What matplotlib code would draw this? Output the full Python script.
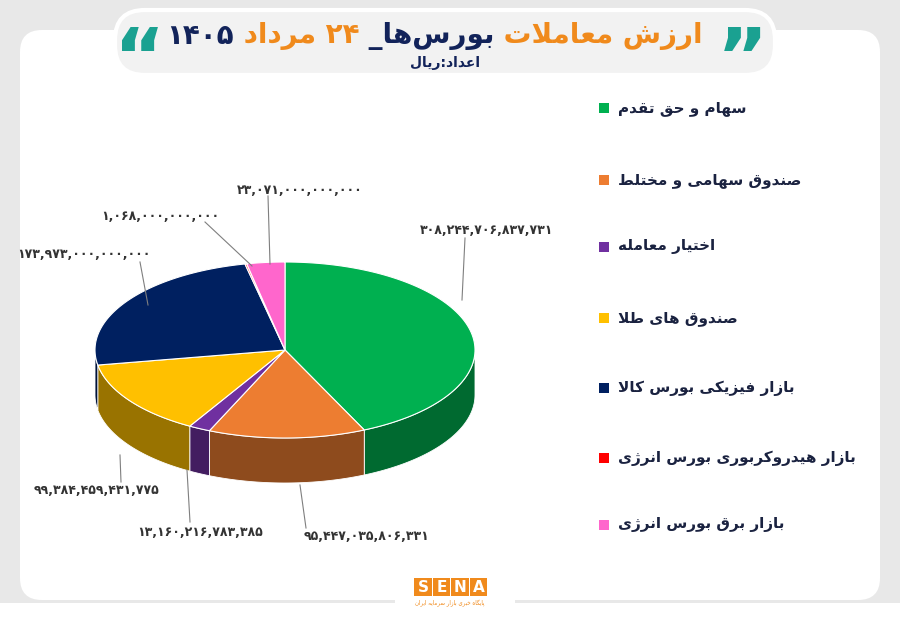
import matplotlib.pyplot as plt
import numpy as np
from matplotlib.patches import FancyBboxPatch, Polygon, Rectangle
import matplotlib.colors as mcolors

plt.rcParams['font.family'] = ['DejaVu Sans']

# داده ها
categories = ["سهام و حق تقدم", "صندوق سهامی و مختلط", "اختیار معامله", "صندوق های طلا",
              "بازار فیزیکی بورس کالا", "بازار هیدروکربوری بورس انرژی", "بازار برق بورس انرژی"]
values = [308244706837731, 95447035806331, 13160216783385, 99384459431775,
          173973000000000, 1068000000000, 23071000000000]
colors = ["#00b050", "#ed7d31", "#7030a0", "#ffc000", "#002060", "#ff0000", "#ff66cc"]
title_parts = [("ارزش معاملات ", "#f08a1c"), ("بورس‌ها_ ", "#12235a"),
               ("۲۴ مرداد ", "#f08a1c"), ("۱۴۰۵", "#12235a")]
subtitle = "اعداد:ریال"

# شکل دهی حروف فارسی (matplotlib خودش این کار را نمی کند)
FORMS = {
    'ا': (0xFE8D, 0xFE8E, None, None), 'ب': (0xFE8F, 0xFE90, 0xFE91, 0xFE92),
    'پ': (0xFB56, 0xFB57, 0xFB58, 0xFB59), 'ت': (0xFE95, 0xFE96, 0xFE97, 0xFE98),
    'ح': (0xFEA1, 0xFEA2, 0xFEA3, 0xFEA4), 'خ': (0xFEA5, 0xFEA6, 0xFEA7, 0xFEA8),
    'د': (0xFEA9, 0xFEAA, None, None), 'ر': (0xFEAD, 0xFEAE, None, None),
    'ز': (0xFEAF, 0xFEB0, None, None), 'ژ': (0xFB8A, 0xFB8B, None, None),
    'س': (0xFEB1, 0xFEB2, 0xFEB3, 0xFEB4), 'ش': (0xFEB5, 0xFEB6, 0xFEB7, 0xFEB8),
    'ص': (0xFEB9, 0xFEBA, 0xFEBB, 0xFEBC), 'ط': (0xFEC1, 0xFEC2, 0xFEC3, 0xFEC4),
    'ع': (0xFEC9, 0xFECA, 0xFECB, 0xFECC), 'ف': (0xFED1, 0xFED2, 0xFED3, 0xFED4),
    'ق': (0xFED5, 0xFED6, 0xFED7, 0xFED8), 'ک': (0xFB8E, 0xFB8F, 0xFB90, 0xFB91),
    'گ': (0xFB92, 0xFB93, 0xFB94, 0xFB95), 'ل': (0xFEDD, 0xFEDE, 0xFEDF, 0xFEE0),
    'م': (0xFEE1, 0xFEE2, 0xFEE3, 0xFEE4), 'ن': (0xFEE5, 0xFEE6, 0xFEE7, 0xFEE8),
    'و': (0xFEED, 0xFEEE, None, None), 'ه': (0xFEE9, 0xFEEA, 0xFEEB, 0xFEEC),
    'ی': (0xFBFC, 0xFBFD, 0xFBFE, 0xFBFF),
}
DIGITS = set("۰۱۲۳۴۵۶۷۸۹0123456789,")


def fa(s):
    out = []
    i = 0
    while i < len(s):
        c = s[i]
        if c not in FORMS:
            if c != '\u200c':
                out.append(c)
            i += 1
            continue
        prev = s[i - 1] if i > 0 else None
        nxt = s[i + 1] if i + 1 < len(s) else None
        p = prev in FORMS and FORMS[prev][2] is not None
        if c == 'ل' and nxt == 'ا':
            out.append(chr(0xFEFC if p else 0xFEFB))
            i += 2
            continue
        n = FORMS[c][2] is not None and nxt in FORMS
        iso, fin, ini, med = FORMS[c]
        if p and n:
            out.append(chr(med))
        elif p:
            out.append(chr(fin))
        elif n:
            out.append(chr(ini))
        else:
            out.append(chr(iso))
        i += 1
    # ترتیب دیداری راست به چپ، اعداد چپ به راست
    runs = []
    for ch in out:
        d = ch in DIGITS
        if runs and runs[-1][0] == d:
            runs[-1][1].append(ch)
        else:
            runs.append([d, [ch]])
    res = ""
    for d, chs in reversed(runs):
        res += "".join(chs) if d else "".join(reversed(chs))
    return res


def fa_num(v):
    return f"{v:,}".translate(str.maketrans("0123456789", "۰۱۲۳۴۵۶۷۸۹"))


fig = plt.figure(figsize=(9, 6.23), dpi=100, facecolor="#e8e8e8")
ax = fig.add_axes([0, 0, 1, 1])
ax.set_xlim(0, 900)
ax.set_ylim(623, 0)
ax.axis("off")

ax.add_patch(Rectangle((0, 603), 900, 20, facecolor="white", edgecolor="none"))
ax.add_patch(FancyBboxPatch((20, 30), 860, 570, boxstyle="round,pad=0,rounding_size=22",
                            facecolor="white", edgecolor="none"))
ax.add_patch(FancyBboxPatch((115, 10), 660, 65, boxstyle="round,pad=0,rounding_size=30",
                            facecolor="#f2f2f2", edgecolor="white", lw=3))

# عنوان
fig.canvas.draw()
r = fig.canvas.get_renderer()
x = 703
for txt, col in title_parts:
    t = ax.text(x, 36, fa(txt), ha="right", va="center", fontsize=20, fontweight="bold", color=col)
    w = t.get_window_extent(r).width
    x -= w
ax.text(742, 62, "”", ha="center", va="center", fontsize=56, fontweight="bold", color="#1aa191")
ax.text(140, 62, "“", ha="center", va="center", fontsize=56, fontweight="bold", color="#1aa191")
ax.text(445, 63, fa(subtitle), ha="center", va="center", fontsize=10, fontweight="bold", color="#12235a")

# نمودار دایره ای سه بعدی
cx, cy, rx, ry, depth = 285, 350, 190, 88, 45
total = sum(values)
fracs = np.array(values) / total
starts = 90 - np.concatenate([[0], np.cumsum(fracs)[:-1]]) * 360
ends = starts - fracs * 360


def pt(a, dy=0):
    a = np.radians(a)
    return cx + rx * np.cos(a), cy - ry * np.sin(a) + dy


for a0, a1, col in zip(starts, ends, colors):
    lo, hi = max(a1, -180), min(a0, 0)
    if lo >= hi:
        continue
    ts = np.linspace(hi, lo, 60)
    top = [pt(t) for t in ts]
    bot = [pt(t, depth) for t in ts[::-1]]
    dark = np.array(mcolors.to_rgb(col)) * 0.6
    ax.add_patch(Polygon(top + bot, closed=True, facecolor=dark, edgecolor="white", lw=0.6))

for a0, a1, col in zip(starts, ends, colors):
    ts = np.linspace(a0, a1, 100)
    poly = [(cx, cy)] + [pt(t) for t in ts]
    ax.add_patch(Polygon(poly, closed=True, facecolor=col, edgecolor="white", lw=0.8))

# برچسب ها
label_pos = [(487, 230), (367, 537), (200, 532), (97, 491), (84, 255), (160, 216), (300, 190)]
line_pts = [[(465, 238), (462, 300)], [(300, 485), (306, 528)], [(187, 470), (190, 522)],
            [(120, 455), (121, 482)], [(140, 262), (148, 305)], [(205, 222), (252, 266)],
            [(268, 196), (270, 264)]]
for v, (lx, ly), lp in zip(values, label_pos, line_pts):
    ax.plot([p[0] for p in lp], [p[1] for p in lp], color="#7f7f7f", lw=0.8)
    ax.text(lx, ly, fa_num(v), ha="center", va="center", fontsize=9, fontweight="bold", color="#333333")

# راهنما
leg_y = [108, 180, 247, 318, 388, 458, 525]
for name, col, y in zip(categories, colors, leg_y):
    ax.add_patch(Rectangle((599, y - 5), 10, 10, facecolor=col, edgecolor="none"))
    ax.text(618, y, fa(name), ha="left", va="center", fontsize=11, fontweight="bold", color="#1a2240")

# لوگو
ax.add_patch(FancyBboxPatch((395, 566), 120, 60, boxstyle="round,pad=0,rounding_size=22",
                            facecolor="white", edgecolor="none"))
for i, ch in enumerate("SENA"):
    ax.add_patch(Rectangle((414 + i * 18.5, 578), 17.5, 18, facecolor="#f08a1c", edgecolor="none"))
    ax.text(423 + i * 18.5, 587.5, ch, ha="center", va="center", fontsize=11, fontweight="bold", color="white")
ax.text(450, 603, fa("پایگاه خبری بازار سرمایه ایران"), ha="center", va="center", fontsize=4, color="#f08a1c")

fig.savefig("out.png", dpi=100, facecolor=fig.get_facecolor())
